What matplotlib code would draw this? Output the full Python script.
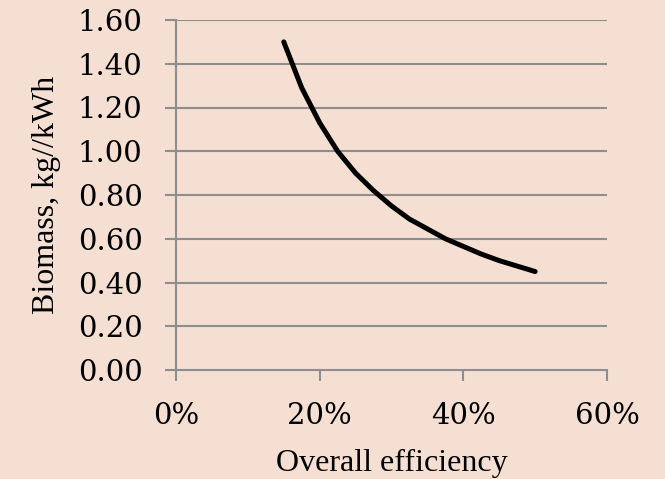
import matplotlib
matplotlib.use("Agg")
import matplotlib.pyplot as plt
from matplotlib.ticker import FuncFormatter

efficiency = [0.15, 0.175, 0.20, 0.225, 0.25, 0.275, 0.30, 0.325, 0.35,
              0.375, 0.40, 0.425, 0.45, 0.475, 0.50]
biomass = [1.50, 1.29, 1.13, 1.00, 0.90, 0.82, 0.75, 0.69, 0.645,
           0.60, 0.565, 0.53, 0.50, 0.475, 0.45]
y_ticks = [0.0, 0.2, 0.4, 0.6, 0.8, 1.0, 1.2, 1.4, 1.6]
x_ticks = [0.0, 0.2, 0.4, 0.6]

bg = "#F5DFD3"
grid_c = "#8E8E8E"

plt.rcParams['font.family'] = ['Liberation Serif', 'DejaVu Serif']

fig = plt.figure(figsize=(6.65, 4.79), dpi=100, facecolor=bg)
ax = fig.add_axes([176/665, 1-370/479, (607-176)/665, (370-20)/479], facecolor=bg)

ax.plot(efficiency, biomass, color="black", lw=3.6, solid_capstyle="round",
        solid_joinstyle="round")

ax.set_xlim(0, 0.6)
ax.set_ylim(0, 1.6)
ax.set_yticks(y_ticks)
ax.set_xticks(x_ticks)
ax.yaxis.set_major_formatter(FuncFormatter(lambda v, p: f"{v:.2f}"))
ax.xaxis.set_major_formatter(FuncFormatter(lambda v, p: f"{v*100:.0f}%"))

for y in y_ticks[1:]:
    ax.axhline(y, color=grid_c, lw=1.5, zorder=0)

for s in ["top", "right"]:
    ax.spines[s].set_visible(False)
for s in ["left", "bottom"]:
    ax.spines[s].set_color(grid_c)
    ax.spines[s].set_linewidth(1.5)

ax.tick_params(axis="y", length=8, width=1.5, color=grid_c, pad=16)
ax.tick_params(axis="x", length=8, width=1.5, color=grid_c, pad=15)
for lab in ax.get_xticklabels() + ax.get_yticklabels():
    lab.set_fontfamily(['DejaVu Serif'])
    lab.set_fontsize(21)

ax.set_xlabel("Overall efficiency", fontsize=23, labelpad=14)
ax.set_ylabel("Biomass, kg//kWh", fontsize=23, labelpad=12)

fig.savefig("out.png", dpi=100, facecolor=bg)
